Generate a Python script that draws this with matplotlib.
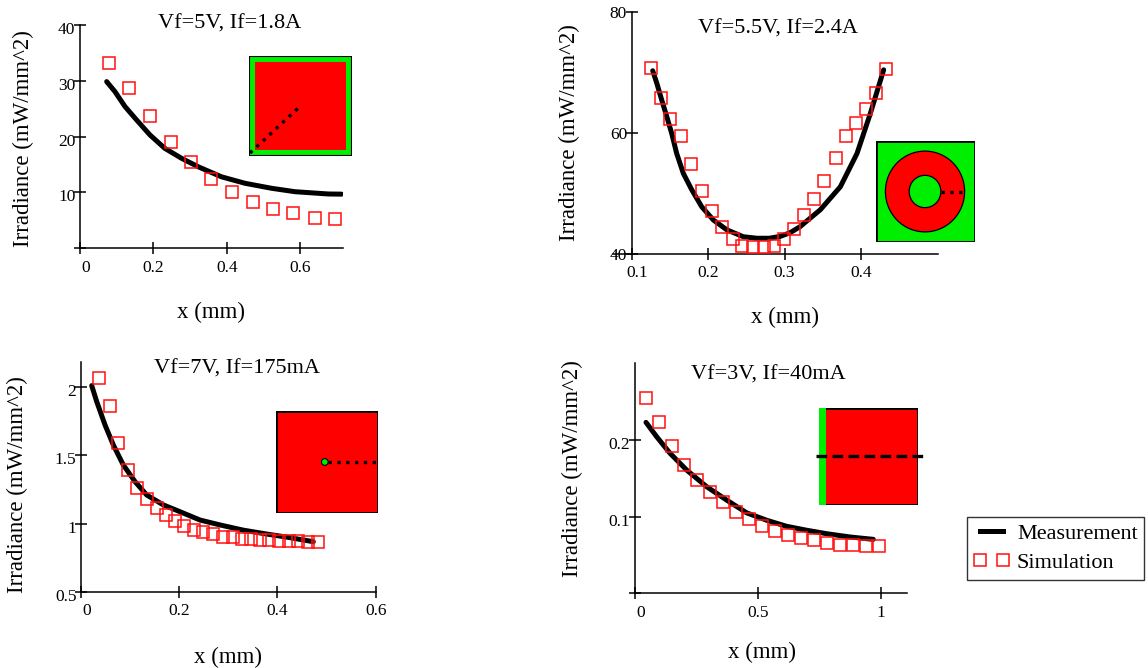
import matplotlib
matplotlib.use('Agg')
import matplotlib.pyplot as plt
from matplotlib.patches import Rectangle, Circle
from matplotlib.lines import Line2D
from matplotlib.transforms import ScaledTranslation

plt.rcParams['font.family'] = ['Liberation Serif', 'DejaVu Serif']

W, H = 1148, 668

titles = ['Vf=5V, If=1.8A', 'Vf=5.5V, If=2.4A', 'Vf=7V, If=175mA', 'Vf=3V, If=40mA']
legend_labels = ['Measurement', 'Simulation']

# Vf=5V, If=1.8A
meas1_x = [0.0726, 0.0952, 0.1224, 0.154, 0.1905, 0.231, 0.277, 0.322, 0.3855, 0.449,
           0.5215, 0.585, 0.676, 0.712]
meas1_y = [29.86, 28.06, 25.4, 23.0, 20.3, 17.9, 16.1, 14.6, 12.8, 11.65,
           10.75, 10.14, 9.73, 9.7]
sim1_x = [0.080, 0.134, 0.190, 0.247, 0.301, 0.357, 0.413, 0.470, 0.525, 0.580, 0.640, 0.694]
sim1_y = [33.2, 28.8, 23.7, 19.0, 15.5, 12.4, 10.1, 8.3, 7.1, 6.3, 5.5, 5.2]

# Vf=5.5V, If=2.4A
meas2_x = [0.1277, 0.133, 0.1395, 0.146, 0.1525, 0.159, 0.1677, 0.1787, 0.1917, 0.207,
           0.2244, 0.246, 0.2637, 0.28, 0.294, 0.307, 0.320, 0.3466, 0.3728, 0.3946,
           0.412, 0.4294]
meas2_y = [70.25, 68.2, 65.4, 62.7, 59.9, 56.6, 53.3, 50.6, 47.8, 45.6,
           44.0, 42.85, 42.6, 42.6, 42.9, 43.5, 44.5, 47.3, 51.1, 56.6,
           63.2, 70.4]
sim2_x = [0.1248, 0.1379, 0.1505, 0.164, 0.1776, 0.1924, 0.2054, 0.2185, 0.232, 0.2447,
          0.2582, 0.273, 0.2861, 0.2991, 0.3126, 0.3257, 0.3388, 0.3519, 0.367, 0.3802,
          0.3932, 0.4063, 0.4194, 0.4325]
sim2_y = [70.75, 65.8, 62.3, 59.4, 54.85, 50.4, 47.1, 44.5, 42.5, 41.4,
          41.2, 41.2, 41.4, 42.5, 44.2, 46.4, 49.0, 52.0, 55.8, 59.4,
          61.7, 63.9, 66.5, 70.5]

# Vf=7V, If=175mA
meas3_x = [0.0218, 0.032, 0.0489, 0.0658, 0.0861, 0.110, 0.1337, 0.1676, 0.2016, 0.2423,
           0.283, 0.33, 0.38, 0.42, 0.473]
meas3_y = [2.0125, 1.895, 1.724, 1.577, 1.430, 1.308, 1.210, 1.137, 1.087, 1.026,
           0.990, 0.952, 0.922, 0.900, 0.867]
sim3_x = [0.0373, 0.0584, 0.076, 0.0964, 0.1134, 0.1344, 0.154, 0.173, 0.192, 0.2105,
          0.230, 0.249, 0.2695, 0.2885, 0.309, 0.327, 0.3455, 0.3646, 0.3836, 0.4033,
          0.423, 0.442, 0.462, 0.482]
sim3_y = [2.071, 1.861, 1.594, 1.393, 1.259, 1.178, 1.112, 1.061, 1.019, 0.982,
          0.953, 0.941, 0.921, 0.904, 0.899, 0.889, 0.884, 0.879, 0.879, 0.875,
          0.875, 0.870, 0.865, 0.865]

# Vf=3V, If=40mA
meas4_x = [0.0448, 0.088, 0.1425, 0.210, 0.2917, 0.373, 0.4545, 0.536, 0.617, 0.699, 0.780, 0.875, 0.970]
meas4_y = [0.2237, 0.205, 0.1833, 0.1614, 0.1395, 0.122, 0.1053, 0.0956, 0.0877, 0.0825, 0.078, 0.0737, 0.0706]
sim4_x = [0.0461, 0.0977, 0.149, 0.2008, 0.2537, 0.3066, 0.3596, 0.4125, 0.4654, 0.5183,
          0.571, 0.624, 0.677, 0.730, 0.783, 0.836, 0.889, 0.942, 0.9946]
sim4_y = [0.256, 0.2237, 0.193, 0.168, 0.148, 0.1325, 0.1197, 0.1066, 0.0969, 0.0877,
          0.0811, 0.0759, 0.0724, 0.0693, 0.0658, 0.0627, 0.0627, 0.0614, 0.0614]

x_ticks = [[0, 0.2, 0.4, 0.6], [0.1, 0.2, 0.3, 0.4], [0, 0.2, 0.4, 0.6], [0, 0.5, 1]]
x_ticklabels = [['0', '0.2', '0.4', '0.6'], ['0.1', '0.2', '0.3', '0.4'],
                ['0', '0.2', '0.4', '0.6'], ['0', '0.5', '1']]
y_ticks = [[0, 10, 20, 30, 40], [40, 60, 80], [0.5, 1, 1.5, 2], [0, 0.1, 0.2]]
y_ticklabels = [['', '10', '20', '30', '40'], ['40', '60', '80'],
                ['0.5', '1', '1.5', '2'], ['', '0.1', '0.2']]


def px_axes(fig, x0, y0, x1, y1):
    # pixel box (top-left / bottom-right, y down) -> figure axes
    return fig.add_axes([x0 / W, 1 - y1 / H, (x1 - x0) / W, (y1 - y0) / H])


def style_axes(ax, i, xlim, ylim, ylab_pos, xlab_pos):
    ax.set_xlim(xlim)
    ax.set_ylim(ylim)
    for s in ['top', 'right']:
        ax.spines[s].set_visible(False)
    for s in ['left', 'bottom']:
        ax.spines[s].set_linewidth(1.1)
    ax.set_xticks(x_ticks[i])
    ax.set_xticklabels(x_ticklabels[i])
    ax.set_yticks(y_ticks[i])
    ax.set_yticklabels(y_ticklabels[i])
    ax.tick_params(axis='x', direction='inout', length=8.5, width=1.1, pad=4, labelsize=12.5)
    ax.tick_params(axis='y', direction='inout', length=8.5, width=1.1, pad=-1, labelsize=12.5)
    ax.set_ylabel('Irradiance (mW/mm^2)', fontsize=16.5)
    ax.set_xlabel('x (mm)', fontsize=16.5)
    ax.yaxis.set_label_coords(*ylab_pos)
    ax.xaxis.set_label_coords(*xlab_pos)
    ax.patch.set_alpha(0)
    # first x label sits a little right of its tick
    off = ScaledTranslation(6 / 100, 0, ax.figure.dpi_scale_trans)
    lab = ax.get_xticklabels()[0]
    lab.set_transform(lab.get_transform() + off)
    # y labels sit a little below their ticks
    down = ScaledTranslation(0, -3 / 100, ax.figure.dpi_scale_trans)
    for lab in ax.get_yticklabels():
        lab.set_transform(lab.get_transform() + down)


def draw(ax, mx, my, sx, sy):
    ax.plot(mx, my, color='black', lw=3.6, solid_capstyle='round', solid_joinstyle='round', zorder=2)
    ax.plot(sx, sy, ls='none', marker='s', ms=9, mfc='none', mec='#ff1010', mew=1.1, zorder=3)


def inset(fig, x0, y0, x1, y1):
    a = px_axes(fig, x0, y0, x1, y1)
    a.set_xlim(0, 1)
    a.set_ylim(0, 1)
    a.axis('off')
    return a


fig = plt.figure(figsize=(W / 100, H / 100), dpi=100)

# main panels
ax1 = px_axes(fig, 80, 25, 343, 248.3)
style_axes(ax1, 0, (0, 0.716), (0, 40), (-0.175, 0.49), (0.498, -0.24))
draw(ax1, meas1_x, meas1_y, sim1_x, sim1_y)

# x axis of this one runs a bit left of the y axis
ax2 = px_axes(fig, 613, 11.7, 937.7, 254)
style_axes(ax2, 1, (0.0758, 0.5), (40, 80), (-0.102, 0.501), (0.53, -0.219))
ax2.spines['left'].set_position(('data', 0.1))
draw(ax2, meas2_x, meas2_y, sim2_x, sim2_y)

ax3 = px_axes(fig, 81, 361.7, 375.7, 591.7)
style_axes(ax3, 2, (0, 0.6), (0.5, 2.188), (-0.18, 0.464), (0.499, -0.239))
draw(ax3, meas3_x, meas3_y, sim3_x, sim3_y)

ax4 = px_axes(fig, 635, 363.3, 906.7, 593.3)
style_axes(ax4, 3, (0, 1.106), (0, 0.301), (-0.191, 0.543), (0.469, -0.21))
draw(ax4, meas4_x, meas4_y, sim4_x, sim4_y)

# titles
fig.text(230 / W, 1 - 28.3 / H, titles[0], ha='center', va='baseline', fontsize=16)
fig.text(778 / W, 1 - 33.3 / H, titles[1], ha='center', va='baseline', fontsize=16)
fig.text(237.5 / W, 1 - 373.3 / H, titles[2], ha='center', va='baseline', fontsize=16)
fig.text(768 / W, 1 - 379.3 / H, titles[3], ha='center', va='baseline', fontsize=16)

RED, GREEN = '#ff0000', '#00ee00'

# inset 1: square chip, green rim, diagonal cut
a = inset(fig, 249, 56, 352, 156)
a.add_patch(Rectangle((0, 0), 1, 1, fc=GREEN, ec='black', lw=1.5))
a.add_patch(Rectangle((0.06, 0.06), 0.88, 0.88, fc=RED, ec='none'))
a.plot([0.01, 0.5], [0.03, 0.5], color='black', ls=':', lw=2.4)

# inset 2: ring emitter
a = inset(fig, 876, 141, 975, 242)
a.add_patch(Rectangle((0, 0), 1, 1, fc=GREEN, ec='black', lw=2))
a.add_patch(Circle((0.495, 0.5), 0.40, fc=RED, ec='black', lw=0.9))
a.add_patch(Circle((0.495, 0.5), 0.16, fc=GREEN, ec='black', lw=0.9))
a.plot([0.655, 0.92], [0.5, 0.5], color='black', ls=':', lw=2.4, clip_on=False)

# inset 3: square chip with centre dot
a = inset(fig, 276, 411, 377.7, 513)
a.add_patch(Rectangle((0, 0), 1, 1, fc=RED, ec='black', lw=2))
a.plot([0.51, 0.98], [0.5, 0.5], color='black', ls=':', lw=2.4)
a.add_patch(Circle((0.48, 0.5), 0.033, fc=GREEN, ec='black', lw=0.8, zorder=3))

# inset 4: square chip with green edge strip
a = inset(fig, 819.3, 408.3, 917.7, 505)
a.add_patch(Rectangle((0, 0), 1, 1, fc=RED, ec='black', lw=2))
a.add_patch(Rectangle((0, 0), 0.065, 1, fc=GREEN, ec='none'))
a.plot([-0.034, 1.05], [0.51, 0.51], color='black', lw=2.4, dashes=(3.2, 1.6), clip_on=False)

# legend
handles = [Line2D([], [], color='black', lw=3.6),
           Line2D([], [], ls='none', marker='s', ms=8, mfc='none', mec='#ff1010', mew=1.1)]
leg = fig.legend(handles, legend_labels, loc='upper left', bbox_to_anchor=(967 / W, 1 - 517 / H),
                 fontsize=16, numpoints=2, frameon=True, fancybox=False, edgecolor='black',
                 handlelength=1.6, handletextpad=0.35, labelspacing=0.38, borderpad=0.3,
                 borderaxespad=0)
leg.get_frame().set_linewidth(1.0)

fig.savefig('out.png', dpi=100)
